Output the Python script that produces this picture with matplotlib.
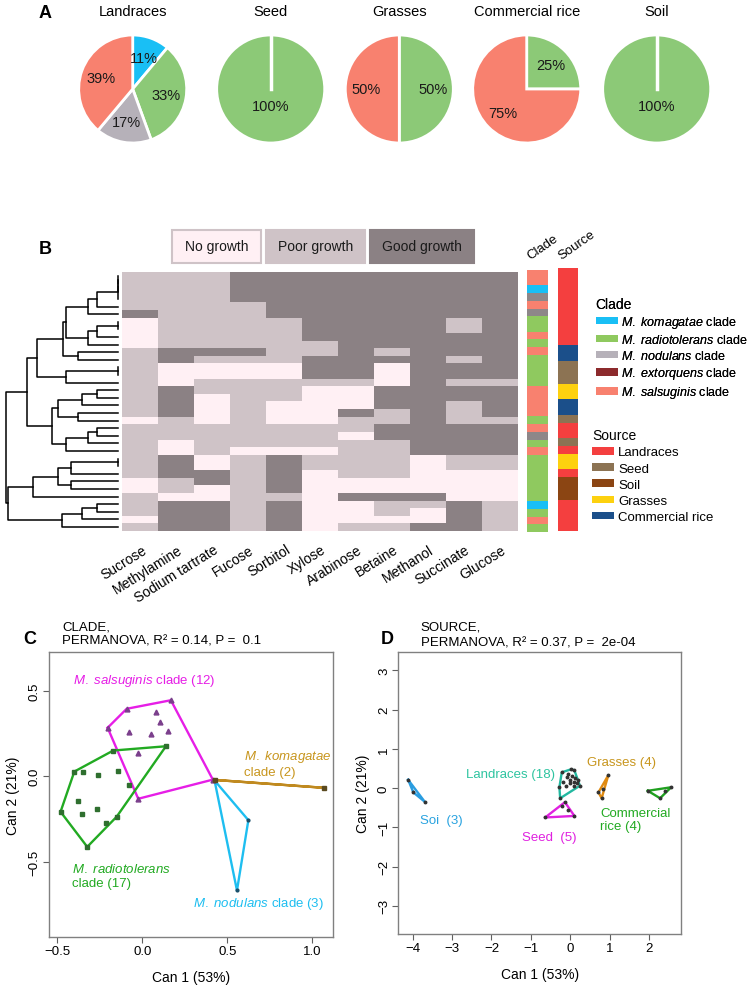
"""
Growth of Methylobacterium isolates: clade/source pies, growth heatmap
with dendrogram, and canonical (CAP) ordination by clade and by source.
"""
import numpy as np
import matplotlib
matplotlib.use('Agg')
import matplotlib.pyplot as plt
from matplotlib.colors import ListedColormap, to_rgb
from matplotlib.patches import Patch, Rectangle

plt.rcParams['font.family'] = ['Liberation Sans', 'DejaVu Sans']
plt.rcParams['mathtext.fontset'] = 'custom'
plt.rcParams['mathtext.rm'] = 'Liberation Sans'
plt.rcParams['mathtext.it'] = 'Liberation Sans:italic'

W, H = 750, 987

# ---------------- data ----------------
CLADES = ['kom', 'rad', 'nod', 'ext', 'sal']
CLADE_NAMES = ['M. komagatae', 'M. radiotolerans', 'M. nodulans',
               'M. extorquens', 'M. salsuginis']
SOURCES = ['Landraces', 'Seed', 'Soil', 'Grasses', 'Commercial rice']
PIE_ORDER = ['Landraces', 'Seed', 'Grasses', 'Commercial rice', 'Soil']

SUBSTRATES = ['Sucrose', 'Methylamine', 'Sodium tartrate', 'Fucose', 'Sorbitol',
              'Xylose', 'Arabinose', 'Betaine', 'Methanol', 'Succinate', 'Glucose']
GROWTH_LEVELS = ['No growth', 'Poor growth', 'Good growth']

# 0 = no growth, 1 = poor growth, 2 = good growth (rows in dendrogram order)
GROWTH = [
    '11122222222', '11122222222', '11122222222', '11122222222',
    '11112222222', '21112222222', '01111222212', '01111222212',
    '01111222222', '01111122222', '12221121222', '12111222212',
    '10000220222', '10000220222', '10111110211', '12111002222',
    '12011002222', '12010002212', '12010021212', '01010011211',
    '11111112222', '11111102222', '10111111222', '10100011222',
    '12012111011', '12012111011', '12212011000', '01212000000',
    '01012000000', '10011022200', '12212001121', '12212001021',
    '02212000021', '12212011221',
]

CLADE_ROWS = ['sal', 'sal', 'kom', 'nod', 'sal', 'nod', 'rad', 'rad', 'sal', 'rad',
              'sal', 'rad', 'rad', 'rad', 'rad', 'sal', 'sal', 'sal', 'sal', 'rad',
              'sal', 'nod', 'rad', 'sal', 'rad', 'rad', 'rad', 'rad', 'rad', 'rad',
              'kom', 'rad', 'sal', 'rad']
SOURCE_ROWS = (['Landraces'] * 10 + ['Commercial rice'] * 2 + ['Seed'] * 3 +
               ['Grasses'] * 2 + ['Commercial rice'] * 2 + ['Seed'] +
               ['Landraces'] * 2 + ['Seed'] + ['Landraces'] + ['Grasses'] * 2 +
               ['Landraces'] + ['Soil'] * 3 + ['Landraces'] * 4)

# hierarchical clustering, scipy-like: (child a, child b, height); new id = 34 + k
LINKAGE = [
    (0, 1, 0.00), (34, 2, 0.00), (35, 3, 0.00), (36, 4, 0.19), (37, 5, 0.27),
    (6, 7, 0.00), (39, 8, 0.19), (40, 9, 0.27), (38, 41, 0.46), (10, 11, 0.36),
    (42, 43, 0.49), (12, 13, 0.00), (45, 14, 0.46), (44, 46, 0.72),
    (15, 16, 0.19), (48, 17, 0.32), (18, 19, 0.36), (49, 50, 0.53),
    (20, 21, 0.19), (52, 22, 0.27), (53, 23, 0.46), (51, 54, 0.59),
    (47, 55, 0.81), (24, 25, 0.00), (57, 26, 0.42), (27, 28, 0.42),
    (58, 59, 0.53), (60, 29, 0.76), (30, 31, 0.19), (62, 32, 0.32),
    (63, 33, 0.50), (61, 64, 0.98), (56, 65, 1.00),
]

# Panel C: canonical scores by clade
SAL_X = [-0.204, -0.092, 0.168, 0.415, -0.024, 0.078, 0.102, -0.079, 0.049, 0.151, -0.024]
SAL_Y = [0.283, 0.394, 0.444, -0.020, -0.132, 0.378, 0.316, 0.261, 0.244, 0.265, 0.133]
RAD_X = [-0.171, 0.139, -0.151, -0.324, -0.481, -0.400, -0.351, -0.259, -0.141,
         -0.081, -0.376, -0.357, -0.269, -0.216]
RAD_Y = [0.150, 0.175, -0.237, -0.413, -0.208, 0.027, 0.026, 0.008, 0.033,
         -0.049, -0.146, -0.220, -0.191, -0.273]
NOD_X = [0.425, 0.624, 0.557]
NOD_Y = [-0.025, -0.257, -0.668]
KOM_X = [0.430, 1.070]
KOM_Y = [-0.022, -0.068]

# Panel D: canonical scores by source
SOIL_X = [-4.11, -3.98, -3.69]
SOIL_Y = [0.21, -0.11, -0.35]
LAND_X = [-0.22, 0.02, 0.10, 0.24, -0.26, -0.28, -0.09, -0.01, 0.10, 0.16, -0.05,
          -0.18, 0.05, 0.12, -0.02, 0.08, -0.12, 0.18]
LAND_Y = [0.40, 0.48, 0.45, 0.06, -0.26, 0.02, 0.27, 0.21, 0.16, 0.13, 0.36,
          0.15, 0.30, 0.25, 0.12, 0.05, 0.05, 0.20]
GRASS_X = [0.96, 0.71, 0.79, 0.82]
GRASS_Y = [0.33, -0.11, -0.26, -0.02]
COMM_X = [1.96, 2.55, 2.27, 2.40]
COMM_Y = [-0.07, 0.02, -0.26, -0.07]
SEED_X = [-0.64, -0.14, 0.10, -0.22, -0.05]
SEED_Y = [-0.75, -0.36, -0.71, -0.45, -0.55]

# ---------------- styles ----------------
CLADE_COLORS = {'kom': '#19bff5', 'rad': '#8fc95f', 'nod': '#b6b1b9',
                'ext': '#8c2a2c', 'sal': '#f8816f'}
CLADE_BAR_COLORS = dict(CLADE_COLORS, nod='#8e8789')
PIE_COLORS = dict(CLADE_COLORS, rad='#8cc977')
SOURCE_COLORS = {'Landraces': '#f43f3f', 'Seed': '#8c7353', 'Soil': '#8b4513',
                 'Grasses': '#fdd10f', 'Commercial rice': '#1b4f8a'}
GROWTH_COLORS = ['#fff0f4', '#cfc3c7', '#8b8184']


def px_box(x0, y0, x1, y1):
    return [x0 / W, 1 - y1 / H, (x1 - x0) / W, (y1 - y0) / H]


def convex_hull(xs, ys):
    pts = sorted(set(zip(xs, ys)))
    if len(pts) <= 2:
        return np.array(pts)

    def cross(o, a, b):
        return (a[0] - o[0]) * (b[1] - o[1]) - (a[1] - o[1]) * (b[0] - o[0])

    lower, upper = [], []
    for p in pts:
        while len(lower) >= 2 and cross(lower[-2], lower[-1], p) <= 0:
            lower.pop()
        lower.append(p)
    for p in reversed(pts):
        while len(upper) >= 2 and cross(upper[-2], upper[-1], p) <= 0:
            upper.pop()
        upper.append(p)
    return np.array(lower[:-1] + upper[:-1])


def italic_label(species, rest):
    return r'$\it{' + species.replace(' ', r'\ ') + '}$' + rest


fig = plt.figure(figsize=(W / 100, H / 100), dpi=100)

ov = fig.add_axes([0, 0, 1, 1])
ov.set_xlim(0, W)
ov.set_ylim(H, 0)
ov.axis('off')

# ---------------- A: pies ----------------
ov.text(45, 13, 'A', fontsize=13, fontweight='bold', va='center', ha='center')
PIE_CX = [132.7, 270.7, 399.3, 526.7, 656.7]
PIE_CY, PIE_R = 90, 54
for i, src in enumerate(PIE_ORDER):
    counts = [sum(1 for c, s in zip(CLADE_ROWS, SOURCE_ROWS) if c == cl and s == src)
              for cl in CLADES]
    vals = [n for n in counts if n > 0]
    cols = [PIE_COLORS[cl] for cl, n in zip(CLADES, counts) if n > 0]
    cx = PIE_CX[i]
    ax = fig.add_axes(px_box(cx - 60, PIE_CY - 60, cx + 60, PIE_CY + 60))
    full = len(vals) == 1
    ax.pie(vals, colors=cols, startangle=90, counterclock=False, radius=1,
           wedgeprops=dict(edgecolor='white', linewidth=2),
           autopct='%.0f%%', pctdistance=0.32 if full else 0.62,
           textprops=dict(fontsize=10.5, color='#1a1a1a'))
    if full:
        ax.plot([0, 0], [0, 1], color='white', lw=2.5)
    ax.set_xlim(-60 / PIE_R, 60 / PIE_R)
    ax.set_ylim(-60 / PIE_R, 60 / PIE_R)
    ax.text(0, 1.45, src, ha='center', va='center', fontsize=10.5)

# ---------------- B: heatmap ----------------
ov.text(45, 249, 'B', fontsize=13, fontweight='bold', va='center', ha='center')

grid = np.array([[int(c) for c in row] for row in GROWTH])
n_rows = grid.shape[0]
hm = fig.add_axes(px_box(121.7, 273.3, 516.7, 531.7))
hm.imshow(grid, cmap=ListedColormap(GROWTH_COLORS), vmin=-0.5, vmax=2.5,
          aspect='auto', interpolation='nearest')
hm.axis('off')
for j, name in enumerate(SUBSTRATES):
    hm.text(j + 0.05, n_rows + 1.0, name, rotation=32, ha='right', va='top',
            rotation_mode='anchor', fontsize=10, clip_on=False)

# growth legend boxes
box_x = [(172, 261), (266, 365), (370, 474)]
for (x0, x1), lvl, col in zip(box_x, GROWTH_LEVELS, GROWTH_COLORS):
    ec = '#cfc3c7' if col == GROWTH_COLORS[0] else col
    ov.add_patch(Rectangle((x0, 231), x1 - x0, 33, facecolor=col, edgecolor=ec, lw=1.5))
    ov.text((x0 + x1) / 2, 247.5, lvl, ha='center', va='center', fontsize=10,
            color='#1a1a1a')

# dendrogram
dn = fig.add_axes(px_box(5, 273.3, 118, 531.7))
pos = {i: (0.0, float(i)) for i in range(n_rows)}
for k, (a, b, h) in enumerate(LINKAGE):
    ha_, ya = pos[a]
    hb, yb = pos[b]
    dn.plot([ha_, h, h, hb], [ya, ya, yb, yb], color='black', lw=1.1, clip_on=False)
    pos[n_rows + k] = (h, (ya + yb) / 2)
dn.set_xlim(1.005, 0)
dn.set_ylim(n_rows - 0.5, -0.5)
dn.axis('off')

# clade / source side bars
clade_rgb = np.array([[to_rgb(CLADE_BAR_COLORS[c])] for c in CLADE_ROWS])
source_rgb = np.array([[to_rgb(SOURCE_COLORS[s])] for s in SOURCE_ROWS])
cb = fig.add_axes(px_box(526.7, 271, 547.7, 533))
cb.imshow(clade_rgb, aspect='auto', interpolation='nearest')
cb.axis('off')
sb = fig.add_axes(px_box(557.7, 269, 577.7, 532))
sb.imshow(source_rgb, aspect='auto', interpolation='nearest')
sb.axis('off')
ov.text(532, 262, 'Clade', rotation=35, ha='left', va='bottom',
        rotation_mode='anchor', fontsize=9.5)
ov.text(563, 262, 'Source', rotation=35, ha='left', va='bottom',
        rotation_mode='anchor', fontsize=9.5)

clade_handles = [Patch(facecolor=CLADE_COLORS[c]) for c in CLADES]
clade_labels = [italic_label(n, ' clade') for n in CLADE_NAMES]
leg1 = fig.legend(clade_handles, clade_labels, loc='upper left',
                  bbox_to_anchor=(587 / W, 1 - 289 / H), title='Clade',
                  alignment='left', frameon=False, fontsize=9, title_fontsize=10,
                  handlelength=1.75, handleheight=0.55, handletextpad=0.3,
                  labelspacing=0.25, borderpad=0.2)
source_handles = [Patch(facecolor=SOURCE_COLORS[s]) for s in SOURCES]
leg2 = fig.legend(source_handles, SOURCES, loc='upper left',
                  bbox_to_anchor=(583 / W, 1 - 420 / H), title='Source',
                  alignment='left', frameon=False, fontsize=9.5, title_fontsize=10,
                  handlelength=1.65, handleheight=0.5, handletextpad=0.3,
                  labelspacing=0.32, borderpad=0.2)
fig.add_artist(leg1)


def style_cap_axes(ax):
    for sp in ax.spines.values():
        sp.set_color('#808080')
        sp.set_linewidth(1)
    ax.tick_params(length=4, color='#606060', labelsize=9.5, pad=2)
    ax.tick_params(axis='y', labelrotation=90)
    for lab in ax.get_yticklabels():
        lab.set_va('center')
    ax.set_xlabel('Can 1 (53%)', fontsize=10, labelpad=9)
    ax.set_ylabel('Can 2 (21%)', fontsize=10, labelpad=6)


def draw_group(ax, xs, ys, line_col, marker, mcol, ms):
    hull = convex_hull(xs, ys)
    closed = np.vstack([hull, hull[:1]])
    ax.plot(closed[:, 0], closed[:, 1], color=line_col, lw=1.7, zorder=2)
    ax.plot(xs, ys, ls='none', marker=marker, ms=ms, color=mcol, zorder=3)


# ---------------- C: by clade ----------------
ov.text(30, 640, 'C', fontsize=13, fontweight='bold', va='center', ha='center')
ov.text(62, 627, 'CLADE,', fontsize=9.5, va='center')
ov.text(62, 642, 'PERMANOVA, R² = 0.14, P =  0.1', fontsize=9.5, va='center')

axc = fig.add_axes(px_box(49, 653, 333, 938))
draw_group(axc, SAL_X, SAL_Y, '#e61ee6', '^', '#7b3f8c', 3.5)
draw_group(axc, RAD_X, RAD_Y, '#22aa22', 's', '#2f6f2f', 2.6)
draw_group(axc, NOD_X, NOD_Y, '#1ebef0', 'o', '#1a4f6a', 2)
draw_group(axc, KOM_X, KOM_Y, '#c08a20', 's', '#5a4a20', 2.4)
axc.set_xlim(-0.549, 1.122)
axc.set_ylim(-0.94, 0.726)
axc.set_xticks([-0.5, 0.0, 0.5, 1.0])
axc.set_yticks([-0.5, 0.0, 0.5])
style_cap_axes(axc)
axc.text(-0.409, 0.56, italic_label('M. salsuginis', ' clade (12)'),
         color='#e61ee6', fontsize=9.5, va='center')
axc.text(0.60, 0.077, italic_label('M. komagatae', '') + '\nclade (2)',
         color='#c8961e', fontsize=9.5, va='center', linespacing=1.2)
axc.text(-0.416, -0.579, italic_label('M. radiotolerans', '') + '\nclade (17)',
         color='#22aa22', fontsize=9.5, va='center', linespacing=1.2)
axc.text(0.30, -0.74, italic_label('M. nodulans', ' clade (3)'),
         color='#1ebef0', fontsize=9.5, va='center')

# ---------------- D: by source ----------------
ov.text(387, 640, 'D', fontsize=13, fontweight='bold', va='center', ha='center')
ov.text(420.7, 628, 'SOURCE,', fontsize=9.5, va='center')
ov.text(420.7, 643, 'PERMANOVA, R² = 0.37, P =  2e-04', fontsize=9.5, va='center')

axd = fig.add_axes(px_box(398.3, 653.3, 681, 935))
draw_group(axd, SOIL_X, SOIL_Y, '#2a9de0', 'o', '#333333', 1.8)
draw_group(axd, LAND_X, LAND_Y, '#22b8a0', 'o', '#333333', 1.8)
draw_group(axd, GRASS_X, GRASS_Y, '#e08a10', 'o', '#333333', 1.8)
draw_group(axd, COMM_X, COMM_Y, '#20a020', 'o', '#333333', 1.8)
draw_group(axd, SEED_X, SEED_Y, '#e020e0', 'o', '#333333', 1.8)
axd.set_xlim(-4.36, 2.80)
axd.set_ylim(-3.72, 3.46)
axd.set_xticks(range(-4, 3))
axd.set_yticks(range(-3, 4))
style_cap_axes(axd)
axd.text(-0.39, 0.357, 'Landraces (18)', color='#2ec4a0', fontsize=9.5,
         ha='right', va='center')
axd.text(0.43, 0.66, 'Grasses (4)', color='#c8961e', fontsize=9.5, va='center')
axd.text(0.76, -0.80, 'Commercial\nrice (4)', color='#22aa22', fontsize=9.5,
         va='center', linespacing=1.2)
axd.text(-3.81, -0.81, 'Soi  (3)', color='#29a3e0', fontsize=9.5, va='center')
axd.text(-1.23, -1.26, 'Seed  (5)', color='#e020e0', fontsize=9.5, va='center')

fig.savefig('out.png', dpi=100)
